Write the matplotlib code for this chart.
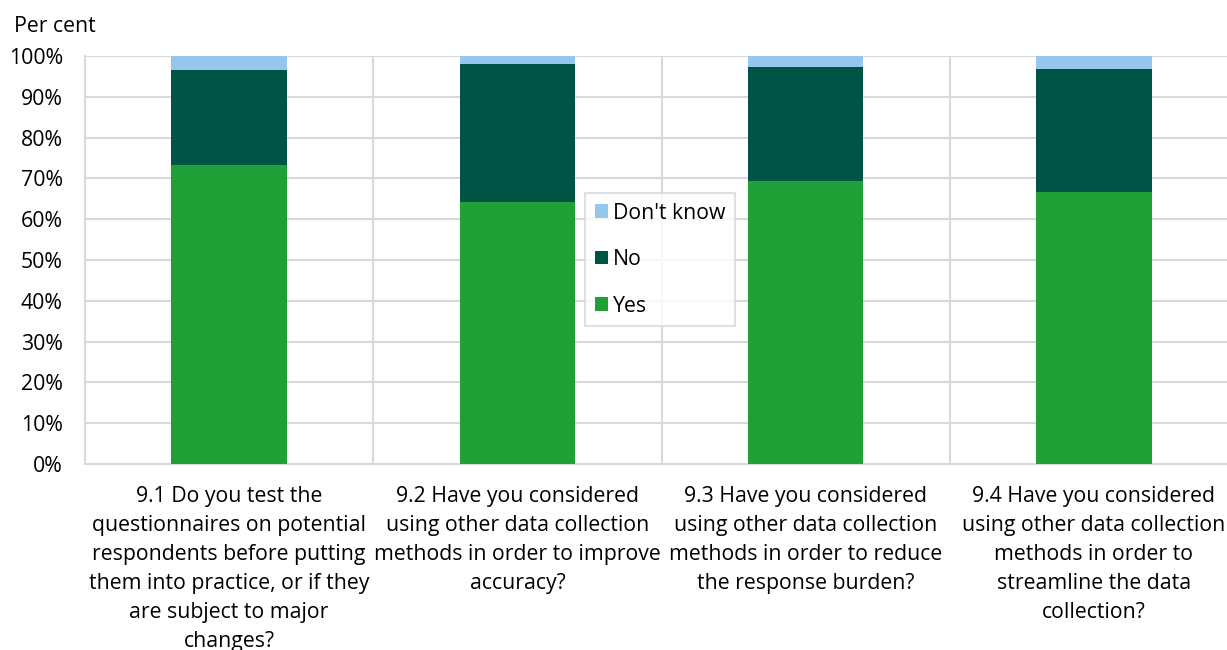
import numpy as np
import matplotlib.pyplot as plt

plt.rcParams['font.family'] = ['Open Sans', 'DejaVu Sans']

categories = [
    "9.1 Do you test the\nquestionnaires on potential\nrespondents before putting\nthem into practice, or if they\nare subject to major\nchanges?",
    "9.2 Have you considered\nusing other data collection\nmethods in order to improve\naccuracy?",
    "9.3 Have you considered\nusing other data collection\nmethods in order to reduce\nthe response burden?",
    "9.4 Have you considered\nusing other data collection\nmethods in order to\nstreamline the data\ncollection?",
]
yes = [73.3, 64.2, 69.4, 66.7]
no = [23.3, 33.9, 28.0, 30.0]
dont_know = [3.4, 1.9, 2.6, 3.3]

col_yes = '#21a038'
col_no = '#005445'
col_dk = '#95c7ec'
grid_col = '#d9d9d9'
fs = 15.3

fig = plt.figure(figsize=(12.27, 6.5), dpi=100)
# right edge of the plot area runs slightly past the image edge, as in the original
ax = fig.add_axes([85 / 1227, 186 / 650, 1153 / 1227, 408 / 650])

x = np.arange(len(categories))
w = 0.4
b_yes = ax.bar(x, yes, w, color=col_yes, label='Yes', zorder=3)
b_no = ax.bar(x, no, w, bottom=yes, color=col_no, label='No', zorder=3)
bottom2 = np.array(yes) + np.array(no)
b_dk = ax.bar(x, dont_know, w, bottom=bottom2, color=col_dk, label="Don't know", zorder=3)

ax.set_xlim(-0.5, len(categories) - 0.5)
ax.set_ylim(0, 100)
ax.set_yticks(np.arange(0, 101, 10))
ax.set_yticklabels([f"{v}%" for v in range(0, 101, 10)], fontsize=fs)
ax.tick_params(axis='y', length=0, pad=16)

# category labels below the axis
ax.set_xticks(x)
ax.set_xticklabels(categories, fontsize=fs, linespacing=1.5, va='top')
ax.tick_params(axis='x', length=0, pad=16)

# gridlines: horizontal at every 10 %, vertical between categories
ax.set_axisbelow(True)
for v in range(10, 101, 10):
    ax.axhline(v, color=grid_col, lw=1.5, zorder=1)
for b in np.arange(0.5, len(categories) - 0.5, 1):
    ax.axvline(b, color=grid_col, lw=1.5, zorder=1)

for s in ['top', 'right']:
    ax.spines[s].set_visible(False)
for s in ['left', 'bottom']:
    ax.spines[s].set_color(grid_col)
    ax.spines[s].set_linewidth(1.5)

leg = ax.legend(handles=[b_dk, b_no, b_yes], loc='upper left',
                bbox_to_anchor=(0.434, 0.664), fontsize=fs, frameon=True,
                fancybox=False, edgecolor=grid_col, handlelength=0.6,
                handleheight=0.6, handletextpad=0.25, labelspacing=1.2,
                borderpad=0.45, borderaxespad=0)
leg.get_frame().set_linewidth(1.5)
leg.set_zorder(5)

fig.text(14 / 1227, 1 - 27 / 650, "Per cent", fontsize=fs, va='center', ha='left')

fig.savefig("out.png", dpi=100)
